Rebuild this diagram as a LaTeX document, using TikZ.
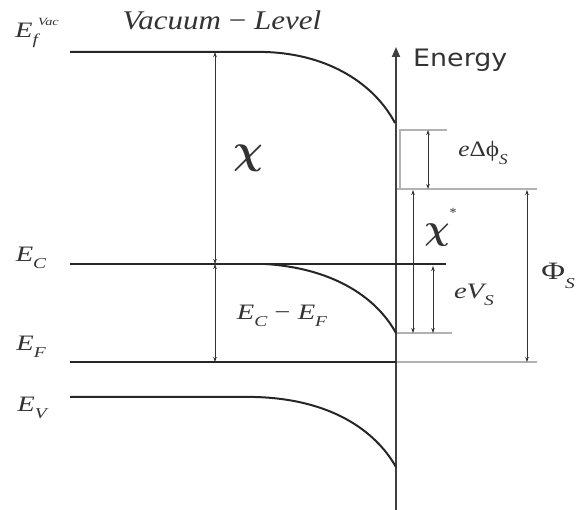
\documentclass[tikz,border=0pt]{standalone}
\usepackage{fontspec}
\usepackage{bm}
\setmainfont{Liberation Serif}
\newfontfamily\wideserif[FakeStretch=1.3]{Liberation Serif}
\newfontfamily\midserif[FakeStretch=1.15]{Liberation Serif}
\newfontfamily\labsans[FakeStretch=1.12]{DejaVu Sans}
\usetikzlibrary{arrows.meta}
\newcommand{\lbsub}[1]{\raisebox{-0.33em}{\fontsize{15}{15}\selectfont\itshape #1}}
\begin{document}
\begin{tikzpicture}[x=1pt,y=-1pt,
  band/.style={line width=2pt,black!85},
  axisline/.style={line width=1.8pt,black!75},
  tickline/.style={line width=1.3pt,black!30},
  dim/.style={{Stealth[length=5pt,width=3.5pt]}-{Stealth[length=5pt,width=3.5pt]},line width=0.8pt,black!80},
  lab/.style={font=\wideserif\fontsize{22}{22}\selectfont\itshape,inner sep=0pt,text=black!80},
  greek/.style={font=\fontsize{20}{20}\selectfont,inner sep=0pt,text=black!80}]
\useasboundingbox (0,0) rectangle (579,510);
% coordinates
\coordinate (vacL) at (70,52);
\coordinate (vacB) at (265,52);
\coordinate (vacE) at (395,123);
\coordinate (ecL) at (70,264);
\coordinate (ecR) at (446,264);
\coordinate (ecB) at (265,264);
\coordinate (ecE) at (396,333);
\coordinate (efL) at (70,362);
\coordinate (efA) at (396,362);
\coordinate (efR) at (537,362);
\coordinate (evL) at (70,397);
\coordinate (evB) at (255,397);
\coordinate (evE) at (396,467);
\coordinate (axB) at (396,510);
\coordinate (axT) at (396,47);
\coordinate (t1L) at (400,130);
\coordinate (t1R) at (447,130);
\coordinate (t2L) at (396,189);
\coordinate (t2R) at (537,189);
\coordinate (t2C) at (400,189);
\coordinate (t3L) at (396,333);
\coordinate (t3R) at (452,333);
\coordinate (chiT) at (215,52);
\coordinate (chiB) at (215,264);
\coordinate (cfB) at (215,362);
\coordinate (dpT) at (428,130);
\coordinate (dpB) at (428,189);
\coordinate (csT) at (413,190);
\coordinate (csB) at (413,333);
\coordinate (vsT) at (433,266);
\coordinate (vsB) at (433,333);
\coordinate (phT) at (527,190);
\coordinate (phB) at (527,362);
% gray ticks
\draw[tickline] (t1R) -- (t1L) -- (t2C);
\draw[tickline] (t2L) -- (t2R);
\draw[tickline] (t3L) -- (t3R);
\draw[tickline] (efA) -- (efR);
% axis
\draw[axisline,-{Triangle[length=10pt,width=8pt]}] (axB) -- (axT);
% bands
\draw[band] (vacL) -- (vacB) .. controls (330,54) and (375,85) .. (vacE);
\draw[band] (ecL) -- (ecR);
\draw[band] (ecB) .. controls (330,268) and (375,295) .. (ecE);
\draw[band] (efL) -- (efA);
\draw[band] (evL) -- (evB) .. controls (330,399) and (375,430) .. (evE);
% dimension arrows
\draw[dim] (chiT) -- (chiB);
\draw[dim] (chiB) -- (cfB);
\draw[dim] (dpT) -- (dpB);
\draw[dim] (csT) -- (csB);
\draw[dim] (vsT) -- (vsB);
\draw[dim] (phT) -- (phB);
% labels
\node[lab] (lvac) at (37,33) {E\raisebox{-0.33em}{\fontsize{15}{15}\selectfont\itshape f}\raisebox{0.55em}{\fontsize{11}{11}\selectfont\itshape Vac}};
\node[lab,font=\midserif\fontsize{27}{27}\selectfont\itshape] (lvl) at (222,20) {Vacuum {\upshape−} Level};
\node[font=\labsans\fontsize{24}{24}\selectfont,inner sep=0pt,anchor=west,text=black!80] (len) at (413,60) {Energy};
\node[greek,scale=2.0] (lchi) at (248,158) {$\bm{\chi}$};
\node[lab,font=\midserif\fontsize{22}{22}\selectfont\itshape] (ledp) at (483,153) {e{\upshape Δϕ}\lbsub{S}};
\node[greek,scale=1.7,anchor=south west] (lcs) at (424,247) {$\bm{\chi}$};
\node[font=\fontsize{14}{14}\selectfont,inner sep=0pt,text=black!80] (lstar) at (453,213) {*};
\node[lab] (lvs) at (474,295) {eV\lbsub{S}};
\node[lab,font=\wideserif\fontsize{25}{25}\selectfont] (lph) at (558,276) {Φ\lbsub{S}};
\node[lab] (lcf) at (282,316) {E\lbsub{C} {\upshape−} E\lbsub{F}};
\node[lab] (lec) at (31,258) {E\lbsub{C}};
\node[lab] (lef) at (31,347) {E\lbsub{F}};
\node[lab] (lev) at (32,408) {E\lbsub{V}};
\end{tikzpicture}
\end{document}
